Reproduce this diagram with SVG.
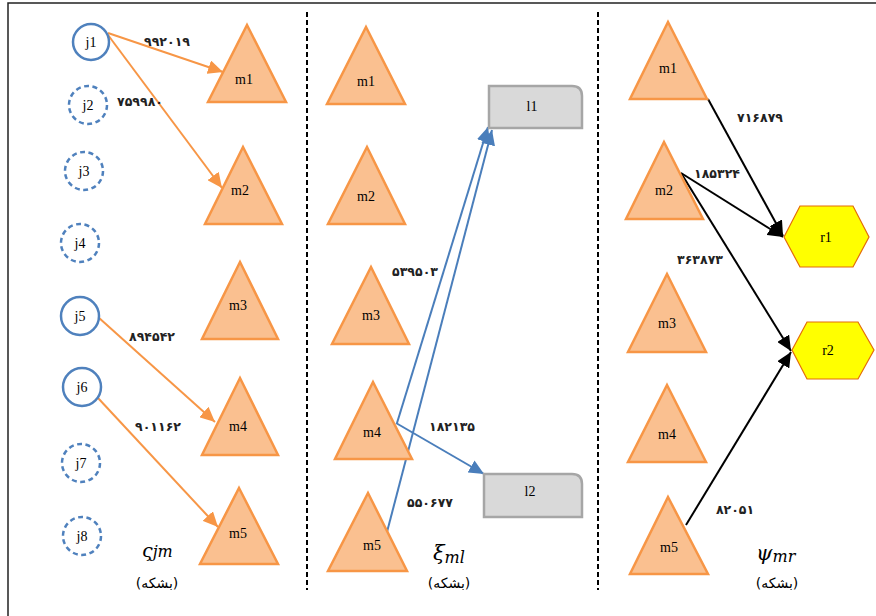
<svg xmlns="http://www.w3.org/2000/svg" width="876" height="616" viewBox="0 0 876 616">
<style>
.tri{fill:#fac090;stroke:#f79646;stroke-width:2.5;stroke-linejoin:miter}
.cir{fill:#fff;stroke:#4f81bd;stroke-width:2.5}
.dash{stroke-dasharray:5 3.5}
.box{fill:#d9d9d9;stroke:#a6a6a6;stroke-width:2.5}
.hex{fill:#ffff00;stroke:#e46c0a;stroke-width:1.2}
.lbl{font-family:"Liberation Serif","Times New Roman",serif;font-size:14px;fill:#000;text-anchor:middle}
.num{font-family:"DejaVu Sans",sans-serif;font-size:12.5px;font-weight:bold;fill:#222;text-anchor:middle}
.cap{font-family:"DejaVu Sans",sans-serif;font-size:14px;fill:#000;text-anchor:middle}
.math{font-family:"DejaVu Serif","Liberation Serif",serif;font-style:italic;fill:#000}
.oc{stroke:#f79646;stroke-width:2;fill:none}
.bc{stroke:#4a7ebb;stroke-width:2;fill:none}
.kc{stroke:#000;stroke-width:2;fill:none}
.sep{stroke:#000;stroke-width:2;stroke-dasharray:5 3}
</style>
<defs>
<marker id="ao" markerUnits="userSpaceOnUse" markerWidth="16" markerHeight="14" refX="15" refY="7" orient="auto"><path d="M0,0 L15,7 L0,14 z" fill="#f79646"/></marker>
<marker id="ab" markerUnits="userSpaceOnUse" markerWidth="16" markerHeight="14" refX="15" refY="7" orient="auto"><path d="M0,0 L15,7 L0,14 z" fill="#4a7ebb"/></marker>
<marker id="ak" markerUnits="userSpaceOnUse" markerWidth="16" markerHeight="14" refX="15" refY="7" orient="auto"><path d="M0,0 L15,7 L0,14 z" fill="#000"/></marker>
</defs>
<rect width="876" height="616" fill="#fff"/>
<path d="M8,616 V3 H876" fill="none" stroke="#222" stroke-width="1.5"/>
<line class="sep" x1="307" y1="12" x2="307" y2="590"/>
<line class="sep" x1="598" y1="12" x2="598" y2="590"/>

<g id="connectors">
<line class="oc" x1="108" y1="33" x2="223" y2="72" marker-end="url(#ao)"/>
<line class="oc" x1="108" y1="35" x2="222" y2="188" marker-end="url(#ao)"/>
<line class="oc" x1="98" y1="317" x2="215" y2="422" marker-end="url(#ao)"/>
<line class="oc" x1="98" y1="398" x2="218" y2="527" marker-end="url(#ao)"/>
<line class="bc" x1="397" y1="423" x2="488" y2="127" marker-end="url(#ab)"/>
<line class="bc" x1="387" y1="532" x2="492" y2="130" marker-end="url(#ab)"/>
<line class="bc" x1="396" y1="423" x2="484" y2="474" marker-end="url(#ab)"/>
<line class="kc" x1="708" y1="99" x2="783" y2="236" marker-end="url(#ak)"/>
<line class="kc" x1="681" y1="173" x2="783" y2="237" marker-end="url(#ak)"/>
<line class="kc" x1="681" y1="173" x2="791" y2="351" marker-end="url(#ak)"/>
<line class="kc" x1="686" y1="525" x2="791" y2="352" marker-end="url(#ak)"/>
<text class="num" x="167" y="46">۹۹۲۰۱۹</text>
<text class="num" x="140" y="106">۷۵۹۹۸۰</text>
<text class="num" x="152" y="341">۸۹۴۵۴۲</text>
<text class="num" x="158" y="431">۹۰۱۱۶۲</text>
<text class="num" x="415" y="276">۵۳۹۵۰۳</text>
<text class="num" x="452" y="431">۱۸۲۱۳۵</text>
<text class="num" x="430" y="507">۵۵۰۶۷۷</text>
<text class="num" x="760" y="122">۷۱۶۸۷۹</text>
<text class="num" x="717" y="178">۱۸۵۳۲۴</text>
<text class="num" x="700" y="264">۳۶۳۸۷۳</text>
<text class="num" x="735" y="514">۸۲۰۵۱</text>
</g>

<g id="j1"><circle class="cir" cx="91" cy="42" r="18"/><text class="lbl" x="91" y="47">j1</text></g>
<g id="j2"><circle class="cir dash" cx="88" cy="105" r="19"/><text class="lbl" x="88" y="110">j2</text></g>
<g id="j3"><circle class="cir dash" cx="84" cy="171" r="19"/><text class="lbl" x="84" y="176">j3</text></g>
<g id="j4"><circle class="cir dash" cx="80" cy="243" r="19"/><text class="lbl" x="80" y="248">j4</text></g>
<g id="j5"><circle class="cir" cx="80" cy="316" r="19"/><text class="lbl" x="80" y="321">j5</text></g>
<g id="j6"><circle class="cir" cx="82" cy="387" r="19"/><text class="lbl" x="82" y="392">j6</text></g>
<g id="j7"><circle class="cir dash" cx="81" cy="463" r="19"/><text class="lbl" x="81" y="468">j7</text></g>
<g id="j8"><circle class="cir dash" cx="82" cy="536" r="19"/><text class="lbl" x="82" y="541">j8</text></g>

<g id="a-m1"><polygon class="tri" points="247,25 286,102 208,102"/><text class="lbl" x="244" y="84">m1</text></g>
<g id="a-m2"><polygon class="tri" points="243,147 282,224 205,224"/><text class="lbl" x="240" y="195">m2</text></g>
<g id="a-m3"><polygon class="tri" points="240,262 278,339 202,339"/><text class="lbl" x="238" y="310">m3</text></g>
<g id="a-m4"><polygon class="tri" points="240,378 278,455 202,455"/><text class="lbl" x="238" y="431">m4</text></g>
<g id="a-m5"><polygon class="tri" points="239,488 278,564 200,564"/><text class="lbl" x="238" y="538">m5</text></g>

<g id="b-m1"><polygon class="tri" points="366,27 405,104 327,104"/><text class="lbl" x="366" y="86">m1</text></g>
<g id="b-m2"><polygon class="tri" points="367,147 405,224 328,224"/><text class="lbl" x="366" y="201">m2</text></g>
<g id="b-m3"><polygon class="tri" points="371,267 409,344 332,344"/><text class="lbl" x="371" y="320">m3</text></g>
<g id="b-m4"><polygon class="tri" points="373,382 412,459 335,459"/><text class="lbl" x="372" y="437">m4</text></g>
<g id="b-m5"><polygon class="tri" points="368,493 407,571 328,571"/><text class="lbl" x="372" y="550">m5</text></g>

<g id="l1"><path class="box" d="M489,86 H572 Q582,86 582,96 V128 H489 Z"/><text class="lbl" x="532" y="111">l1</text></g>
<g id="l2"><path class="box" d="M484,474 H572 Q582,474 582,484 V517 H484 Z"/><text class="lbl" x="530" y="496">l2</text></g>

<g id="c-m1"><polygon class="tri" points="668,22 707,99 630,99"/><text class="lbl" x="668" y="73">m1</text></g>
<g id="c-m2"><polygon class="tri" points="664,142 703,219 626,219"/><text class="lbl" x="664" y="195">m2</text></g>
<g id="c-m3"><polygon class="tri" points="667,274 706,352 628,352"/><text class="lbl" x="667" y="328">m3</text></g>
<g id="c-m4"><polygon class="tri" points="667,385 706,462 628,462"/><text class="lbl" x="667" y="439">m4</text></g>
<g id="c-m5"><polygon class="tri" points="668,497 708,574 630,574"/><text class="lbl" x="669" y="552">m5</text></g>

<g id="r1"><polygon class="hex" points="784,237 800,206 853,206 869,237 853,267 800,267"/><text class="lbl" x="826" y="242">r1</text></g>
<g id="r2"><polygon class="hex" points="792,350 807,322 858,322 874,350 858,379 807,379"/><text class="lbl" x="828" y="355">r2</text></g>

<g id="captions">
<text class="math" x="142" y="557" font-size="19">ς<tspan font-size="16">jm</tspan></text>
<text class="cap" x="157" y="588">(بشکه)</text>
<text class="math" x="433" y="560" font-size="21">ξ<tspan font-size="16" dy="3">ml</tspan></text>
<text class="cap" x="449" y="588">(بشکه)</text>
<text class="math" x="756" y="560" font-size="21">ψ<tspan font-size="16" dy="2">mr</tspan></text>
<text class="cap" x="777" y="588">(بشکه)</text>
</g>
</svg>
